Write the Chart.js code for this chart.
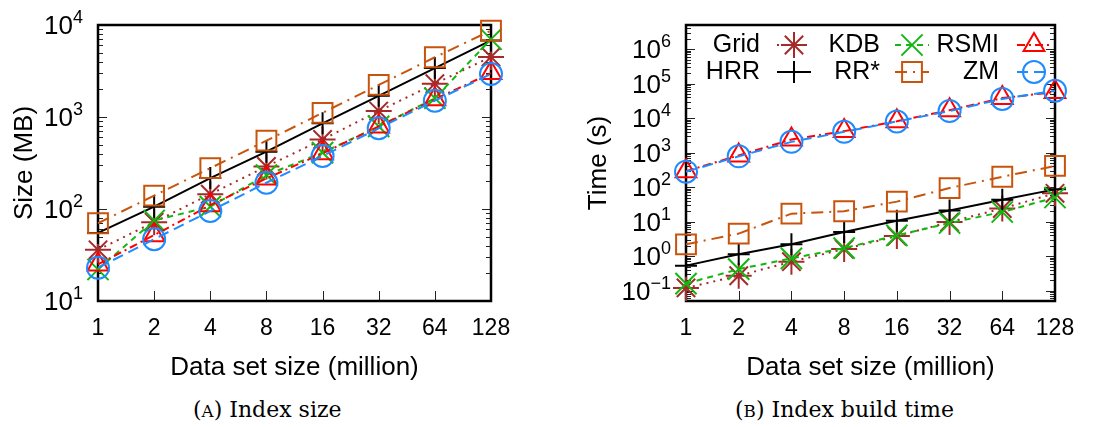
<!DOCTYPE html>
<html>
<head>
<meta charset="utf-8">
<script src="https://cdn.jsdelivr.net/npm/chart.js@4"></script>
<style>
html, body { margin: 0; padding: 0; background: #fff; }
#wrap { position: relative; width: 1094px; height: 427px; overflow: hidden; }
.box { position: absolute; top: 0; width: 547px; height: 385px; }
.cap { position: absolute; top: 397px; font: 22px "DejaVu Serif", serif; color: #000; white-space: nowrap; }
.sc { font-size: 0.76em; }
</style>
</head>
<body>
<div id="wrap">
  <div class="box" style="left:0"><canvas id="sizeChart"></canvas></div>
  <div class="box" style="left:547px"><canvas id="timeChart"></canvas></div>
  <div class="cap" style="left:193px">(<span class="sc">A</span>) Index size</div>
  <div class="cap" style="left:735px">(<span class="sc">B</span>) Index build time</div>
</div>
<script>
// x categories (million points)
const sizes = ['1', '2', '4', '8', '16', '32', '64', '128'];

// (a) index size, MB
const gridSize = [36, 72, 145, 290, 570, 1160, 2300, 4500];
const hrrSize  = [55, 106, 217, 420, 854, 1700, 3400, 6800];
const kdbSize  = [22, 75, 106, 234, 410, 790, 1600, 7000];
const rrsSize  = [70, 140, 278, 553, 1110, 2230, 4460, 8700];
const rsmiSize = [25, 52, 110, 215, 403, 790, 1560, 3000];
const zmSize   = [23, 47, 95, 193, 377, 754, 1506, 2930];

// (b) index build time, seconds
const gridTime = [0.12, 0.27, 0.69, 1.6, 3.8, 9.7, 24, 66];
const hrrTime  = [0.53, 1.13, 2.2, 5.0, 10.6, 21, 43, 86];
const kdbTime  = [0.16, 0.42, 0.86, 1.7, 4.0, 9.1, 19, 50];
const rrsTime  = [2.2, 4.5, 17, 20, 38, 94, 200, 410];
const rsmiTime = [290, 830, 2400, 4200, 8100, 17000, 38000, 57000];
const zmTime   = [280, 780, 2050, 4000, 8000, 16000, 36000, 62000];

const names = ['Grid', 'HRR', 'KDB', 'RR*', 'RSMI', 'ZM'];

const styles = {
    'Grid': { color: '#a52a2a', dash: [2, 5], point: 'star', r: 13 },
    'HRR':  { color: '#000000', dash: [], point: 'cross', r: 11 },
    'KDB':  { color: '#12b812', dash: [6, 5], point: 'crossRot', r: 15 },
    'RR*':  { color: '#c8540c', dash: [12, 6, 2, 6], point: 'rect', r: 14 },
    'RSMI': { color: '#ff0000', dash: [8, 4, 2, 4], point: 'triangle', r: 12 },
    'ZM':   { color: '#1e8cff', dash: [11, 6], point: 'circle', r: 11 }
};

Chart.defaults.font.family = '"Liberation Sans", Arial, sans-serif';
Chart.defaults.color = '#000';

function makeDatasets(series) {
    return names.map(function (name, i) {
        const s = styles[name];
        return {
            label: name,
            data: series[i],
            borderColor: s.color,
            backgroundColor: 'rgba(0,0,0,0)',
            borderWidth: 2,
            borderDash: s.dash,
            pointStyle: s.point,
            pointRadius: s.r,
            pointHoverRadius: s.r,
            pointBorderWidth: 2,
            pointBorderColor: s.color,
            pointBackgroundColor: 'rgba(0,0,0,0)',
            tension: 0,
            fill: false,
            clip: false,
            order: names.length - i
        };
    });
}

// frame + inward ticks (gnuplot style), drawn before the data
const framePlugin = {
    id: 'frame',
    beforeDatasetsDraw(chart) {
        const ctx = chart.ctx;
        const a = chart.chartArea;
        const x = chart.scales.x, y = chart.scales.y;
        ctx.save();
        ctx.strokeStyle = '#222';
        ctx.lineWidth = 1;
        ctx.beginPath();
        const lo = Math.floor(Math.log10(y.min)), hi = Math.ceil(Math.log10(y.max));
        for (let k = lo; k <= hi; k++) {
            for (let m = 1; m <= 9; m++) {
                const v = m * Math.pow(10, k);
                if (v < y.min * 0.999 || v > y.max * 1.001) continue;
                const py = Math.round(y.getPixelForValue(v)) + 0.5;
                const len = m === 1 ? 9 : 5;
                ctx.moveTo(a.left, py); ctx.lineTo(a.left + len, py);
                ctx.moveTo(a.right, py); ctx.lineTo(a.right - len, py);
            }
        }
        for (let i = 0; i < sizes.length; i++) {
            const px = Math.round(x.getPixelForValue(i)) + 0.5;
            ctx.moveTo(px, a.bottom); ctx.lineTo(px, a.bottom - 10);
        }
        ctx.stroke();
        ctx.strokeStyle = '#000';
        ctx.lineWidth = 2.5;
        ctx.strokeRect(a.left, a.top, a.right - a.left, a.bottom - a.top);
        ctx.restore();
    },
    afterDraw(chart) {
        // y labels as 10^k with raised exponent
        const ctx = chart.ctx;
        const a = chart.chartArea;
        const y = chart.scales.y;
        const lo = Math.ceil(Math.log10(y.min) - 1e-9), hi = Math.floor(Math.log10(y.max) + 1e-9);
        ctx.save();
        ctx.fillStyle = '#000';
        ctx.textBaseline = 'middle';
        ctx.textAlign = 'left';
        for (let k = lo; k <= hi; k++) {
            const py = y.getPixelForValue(Math.pow(10, k)) + 2;
            const exp = String(k).replace('-', '\u2212');
            ctx.font = '18px "Liberation Sans", Arial, sans-serif';
            const we = ctx.measureText(exp).width;
            ctx.font = '26px "Liberation Sans", Arial, sans-serif';
            const wb = ctx.measureText('10').width;
            const right = a.left - 15;
            ctx.fillText('10', right - we - wb, py);
            ctx.font = '18px "Liberation Sans", Arial, sans-serif';
            ctx.fillText(exp, right - we, py - 9);
        }
        ctx.restore();
    }
};

// key in two rows, text then sample, like the original
const keyPlugin = {
    id: 'key',
    afterDatasetsDraw(chart) {
        const ctx = chart.ctx;
        const textRight = [213, 333, 452];
        const sampleLeft = [230, 348, 470];
        const rows = [45, 72];
        const layout = [['Grid', 'KDB', 'RSMI'], ['HRR', 'RR*', 'ZM']];
        ctx.save();
        for (let r = 0; r < 2; r++) {
            for (let c = 0; c < 3; c++) {
                const name = layout[r][c];
                const s = styles[name];
                const yy = rows[r];
                ctx.font = '25px "Liberation Sans", Arial, sans-serif';
                ctx.fillStyle = '#000';
                ctx.textAlign = 'right';
                ctx.textBaseline = 'middle';
                ctx.fillText(name, textRight[c], yy);
                ctx.strokeStyle = s.color;
                ctx.lineWidth = 2;
                ctx.setLineDash(s.dash);
                ctx.beginPath();
                ctx.moveTo(sampleLeft[c], yy);
                ctx.lineTo(sampleLeft[c] + 34, yy);
                ctx.stroke();
                ctx.setLineDash([]);
                ctx.fillStyle = 'rgba(0,0,0,0)';
                Chart.helpers.drawPoint(ctx, { pointStyle: s.point, radius: s.r, rotation: 0, borderWidth: 2 }, sampleLeft[c] + 17, yy);
            }
        }
        ctx.restore();
    }
};

function makeChart(id, series, yTitle, yMin, yMax, area, withKey) {
    const plugins = [framePlugin];
    if (withKey) plugins.push(keyPlugin);
    return new Chart(document.getElementById(id), {
        type: 'line',
        data: { labels: sizes, datasets: makeDatasets(series) },
        plugins: plugins,
        options: {
            responsive: true,
            maintainAspectRatio: false,
            animation: false,
            events: [],
            layout: { padding: { top: 25, right: area.padRight, left: 0, bottom: 0 } },
            plugins: { legend: { display: false }, tooltip: { enabled: false } },
            scales: {
                x: {
                    type: 'category',
                    offset: false,
                    grid: { display: false, drawTicks: false },
                    border: { display: false },
                    ticks: { font: { size: 23 }, padding: 14, maxRotation: 0, autoSkip: false, color: '#000' },
                    title: { display: true, text: 'Data set size (million)', font: { size: 26 }, padding: { top: 0, bottom: 2 }, color: '#000' },
                    afterFit: function (scale) { scale.height = 84; }
                },
                y: {
                    type: 'logarithmic',
                    min: yMin,
                    max: yMax,
                    grid: { display: false, drawTicks: false },
                    border: { display: false },
                    ticks: { display: false },
                    title: { display: true, text: yTitle, font: { size: 26 }, padding: { top: area.titlePad, bottom: 0 }, color: '#000' },
                    afterFit: function (scale) { scale.width = area.yWidth; }
                }
            }
        }
    });
}

makeChart('sizeChart', [gridSize, hrrSize, kdbSize, rrsSize, rsmiSize, zmSize], 'Size (MB)', 10, 10000,
    { padRight: 56, yWidth: 98, titlePad: 9 }, false);
makeChart('timeChart', [gridTime, hrrTime, kdbTime, rrsTime, rsmiTime, zmTime], 'Time (s)', 0.05, 5e6,
    { padRight: 39, yWidth: 139, titlePad: 36 }, true);
</script>
</body>
</html>
